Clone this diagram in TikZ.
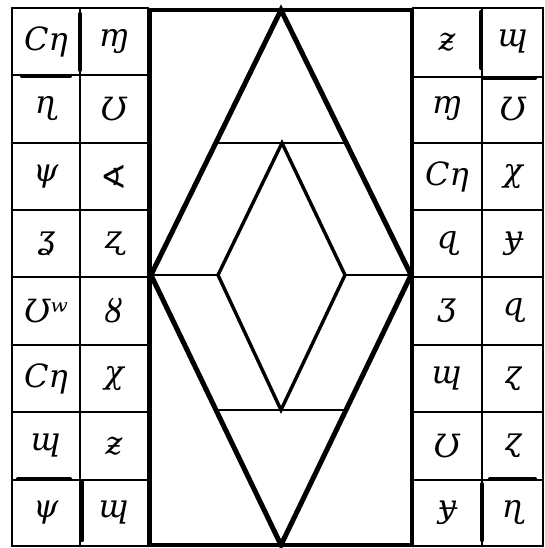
\documentclass[tikz,border=0pt]{standalone}
\usepackage{fontspec}
\setmainfont{DejaVu Serif}
\newfontfamily\symfont{DejaVu Sans}
\begin{document}
\begin{tikzpicture}[x=1pt,y=-1pt,
  grid/.style={line width=2.6pt,line cap=round},
  heavy/.style={line width=5pt,line join=miter},
  mid/.style={line width=3.4pt,line join=miter},
  thin/.style={line width=2.2pt},
  smudge/.style={line width=4.2pt,line cap=round},
  glyph/.style={font=\fontsize{32}{32}\selectfont\itshape,inner sep=0pt}]
\useasboundingbox (0,0) rectangle (545,548);
\fill[white] (0,0) rectangle (545,548);
% left grid
\foreach \y in {8,75,143,210,277,345,412,480,546}
  \draw[grid] (12,\y) -- (148,\y);
\foreach \x in {12,80,148}
  \draw[grid] (\x,8) -- (\x,546);
% right grid
\foreach \y in {8,77,143,210,277,345,412,480,546}
  \draw[grid] (413,\y) -- (543,\y);
\foreach \x in {413,482,543}
  \draw[grid] (\x,8) -- (\x,546);
% smudged thicker strokes
\draw[smudge] (22,76) -- (70,76);
\draw[smudge] (80,14) -- (80,70);
\draw[smudge] (18,479) -- (70,479);
\draw[smudge] (82,482) -- (82,540);
\draw[smudge] (484,78) -- (535,78);
\draw[smudge] (481,12) -- (481,68);
\draw[smudge] (490,479) -- (535,479);
\draw[smudge] (482,484) -- (482,540);
% central frame
\coordinate (TL) at (150,10);
\coordinate (BR) at (412,545);
\draw[mid] (TL) rectangle (BR);
% outer diamond
\coordinate (OT) at (281,10);
\coordinate (OL) at (151,275);
\coordinate (OR) at (411,275);
\coordinate (OB) at (281,545);
\draw[heavy] (OT) -- (OL) -- (OB) -- (OR) -- cycle;
% inner diamond
\coordinate (IT) at (282,143);
\coordinate (IL) at (218,275);
\coordinate (IR) at (345,275);
\coordinate (IB) at (281,410);
\draw[mid] (IT) -- (IL) -- (IB) -- (IR) -- cycle;
% horizontal bars
\coordinate (H1L) at (215,143);
\coordinate (H1R) at (348,143);
\coordinate (H2L) at (214,410);
\coordinate (H2R) at (348,410);
\draw[thin] (H1L) -- (H1R);
\draw[thin] (H2L) -- (H2R);
\draw[thin] (OL) -- (IL);
\draw[thin] (IR) -- (OR);
% left glyphs
\node[glyph] (l11) at (46,42) {Cη};
\node[glyph] (l12) at (114,42) {ɱ};
\node[glyph] (l21) at (46,109) {ɳ};
\node[glyph] (l22) at (114,109) {Ʊ};
\node[glyph] (l31) at (46,177) {ψ};
\node[glyph] (l32) at (114,177) {\symfont\upshape ∢};
\node[glyph] (l41) at (46,244) {ʓ};
\node[glyph] (l42) at (114,244) {ʐ};
\node[glyph] (l51) at (46,311) {Ʊʷ};
\node[glyph] (l52) at (114,311) {ȣ};
\node[glyph] (l61) at (46,379) {Cη};
\node[glyph] (l62) at (114,379) {χ};
\node[glyph] (l71) at (46,446) {ɰ};
\node[glyph] (l72) at (114,446) {ƶ};
\node[glyph] (l81) at (46,513) {ψ};
\node[glyph] (l82) at (114,513) {ɰ};
% right glyphs
\node[glyph] (r11) at (447,42) {ƶ};
\node[glyph] (r12) at (513,42) {ɰ};
\node[glyph] (r21) at (447,109) {ɱ};
\node[glyph] (r22) at (513,109) {Ʊ};
\node[glyph] (r31) at (447,177) {Cη};
\node[glyph] (r32) at (513,177) {χ};
\node[glyph] (r41) at (447,244) {ɋ};
\node[glyph] (r42) at (513,244) {ɏ};
\node[glyph] (r51) at (447,311) {ʒ};
\node[glyph] (r52) at (513,311) {ɋ};
\node[glyph] (r61) at (447,379) {ɰ};
\node[glyph] (r62) at (513,379) {ɀ};
\node[glyph] (r71) at (447,446) {Ʊ};
\node[glyph] (r72) at (513,446) {ɀ};
\node[glyph] (r81) at (447,513) {ɏ};
\node[glyph] (r82) at (513,513) {ɳ};
\end{tikzpicture}
\end{document}
